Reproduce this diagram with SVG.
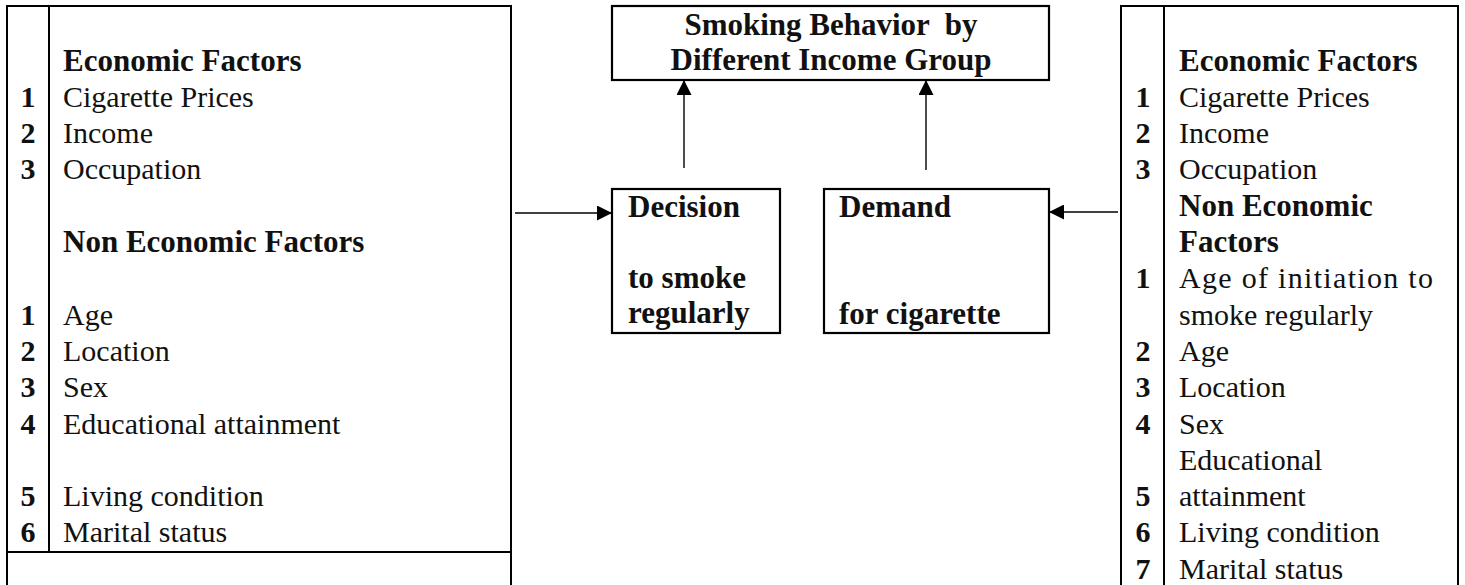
<svg xmlns="http://www.w3.org/2000/svg" width="1465" height="585" viewBox="0 0 1465 585">
<defs>
<style>
.ln{stroke:#000;stroke-width:2;fill:none}
.bx{stroke:#000;stroke-width:2.2;fill:#fff}
.cn{stroke:#000;stroke-width:1.4;fill:none}
.t{font-family:"Liberation Serif","Times New Roman",serif;font-size:30px;fill:#111}
.b{font-family:"Liberation Serif","Times New Roman",serif;font-size:31px;font-weight:bold;fill:#111}
.n{font-family:"Liberation Serif","Times New Roman",serif;font-size:30px;font-weight:bold;fill:#111;text-anchor:middle}
</style>
<marker id="ah" markerUnits="userSpaceOnUse" markerWidth="15" markerHeight="15" refX="15" refY="7.5" orient="auto">
<path d="M0,0 L15,7.5 L0,15 z" fill="#000"/>
</marker>
</defs>
<rect width="1465" height="585" fill="#fff"/>

<g id="left-panel">
<path class="ln" d="M7,6 V585 M511,6 V585 M6,6 H512 M49,6 V552 M7,552 H511"/>
<text class="b" x="63" y="70.5">Economic Factors</text>
<text class="n" x="28" y="106.8">1</text><text class="t" x="63" y="106.8">Cigarette Prices</text>
<text class="n" x="28" y="143.1">2</text><text class="t" x="63" y="143.1">Income</text>
<text class="n" x="28" y="179.4">3</text><text class="t" x="63" y="179.4">Occupation</text>
<text class="b" x="63" y="252">Non Economic Factors</text>
<text class="n" x="28" y="324.6">1</text><text class="t" x="63" y="324.6">Age</text>
<text class="n" x="28" y="360.9">2</text><text class="t" x="63" y="360.9">Location</text>
<text class="n" x="28" y="397.2">3</text><text class="t" x="63" y="397.2">Sex</text>
<text class="n" x="28" y="433.5">4</text><text class="t" x="63" y="433.5">Educational attainment</text>
<text class="n" x="28" y="506.1">5</text><text class="t" x="63" y="506.1">Living condition</text>
<text class="n" x="28" y="542.4">6</text><text class="t" x="63" y="542.4">Marital status</text>
</g>

<g id="outcome">
<rect class="bx" x="612" y="6" width="437" height="74"/>
<text class="b" x="831" y="35" text-anchor="middle" xml:space="preserve">Smoking Behavior  by</text>
<text class="b" x="831" y="70" text-anchor="middle">Different Income Group</text>
</g>

<g id="decision">
<rect class="bx" x="612" y="189" width="168" height="144"/>
<text class="b" x="628" y="217">Decision</text>
<text class="b" x="628" y="288">to smoke</text>
<text class="b" x="628" y="323">regularly</text>
</g>

<g id="demand">
<rect class="bx" x="824" y="189" width="225" height="144"/>
<text class="b" x="839" y="217">Demand</text>
<text class="b" x="839" y="324">for cigarette</text>
</g>

<g id="right-panel">
<path class="ln" d="M1121,6 V585 M1458,6 V585 M1120,6 H1459 M1164,6 V585"/>
<text class="b" x="1179" y="70.5">Economic Factors</text>
<text class="n" x="1143" y="106.8">1</text><text class="t" x="1179" y="106.8">Cigarette Prices</text>
<text class="n" x="1143" y="143.1">2</text><text class="t" x="1179" y="143.1">Income</text>
<text class="n" x="1143" y="179.4">3</text><text class="t" x="1179" y="179.4">Occupation</text>
<text class="b" x="1179" y="215.7">Non Economic</text>
<text class="b" x="1179" y="252">Factors</text>
<text class="n" x="1143" y="288.3">1</text><text class="t" x="1179" y="288.3" textLength="254" lengthAdjust="spacing">Age of initiation to</text>
<text class="t" x="1179" y="324.6">smoke regularly</text>
<text class="n" x="1143" y="360.9">2</text><text class="t" x="1179" y="360.9">Age</text>
<text class="n" x="1143" y="397.2">3</text><text class="t" x="1179" y="397.2">Location</text>
<text class="n" x="1143" y="433.5">4</text><text class="t" x="1179" y="433.5">Sex</text>
<text class="t" x="1179" y="469.8">Educational</text>
<text class="n" x="1143" y="506.1">5</text><text class="t" x="1179" y="506.1">attainment</text>
<text class="n" x="1143" y="542.4">6</text><text class="t" x="1179" y="542.4">Living condition</text>
<text class="n" x="1143" y="578.7">7</text><text class="t" x="1179" y="578.7">Marital status</text>
</g>

<g id="connectors">
<line class="cn" x1="515" y1="213" x2="612" y2="213" marker-end="url(#ah)"/>
<line class="cn" x1="1118" y1="212" x2="1049" y2="212" marker-end="url(#ah)"/>
<line class="cn" x1="684" y1="168" x2="684" y2="80" marker-end="url(#ah)"/>
<line class="cn" x1="926" y1="170" x2="926" y2="80" marker-end="url(#ah)"/>
</g>
</svg>
